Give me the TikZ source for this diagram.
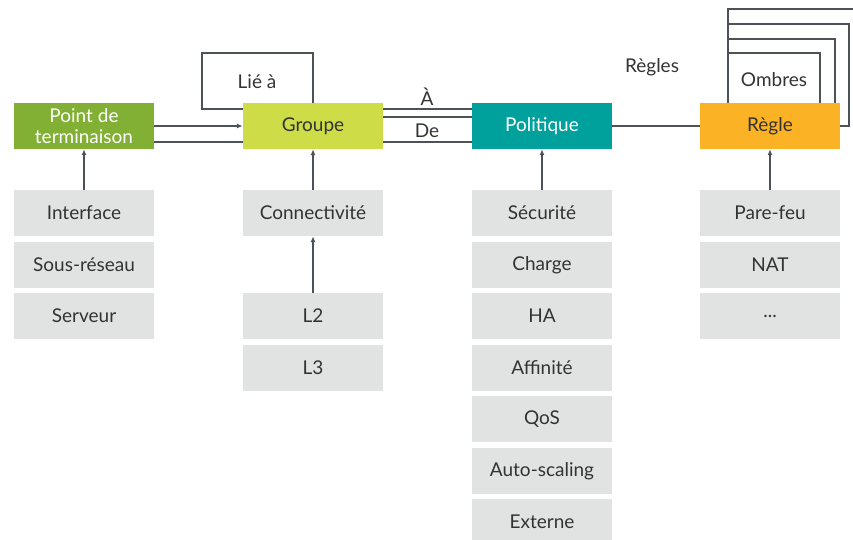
\documentclass[tikz,border=0pt]{standalone}
\usepackage{fontspec}
\setmainfont{Lato}
\usetikzlibrary{arrows.meta,backgrounds}

\definecolor{linegray}{HTML}{4D5258}
\definecolor{itemgray}{HTML}{E1E2E2}
\definecolor{epgreen}{HTML}{82B035}
\definecolor{grplime}{HTML}{CEDC47}
\definecolor{polteal}{HTML}{00A19D}
\definecolor{rulegold}{HTML}{FBB224}
\definecolor{textdark}{HTML}{333333}

\tikzset{
  box/.style={minimum width=140pt,minimum height=46pt,inner sep=0pt,align=center,
    font=\fontsize{19}{21}\selectfont,text=textdark},
  item/.style={box,fill=itemgray},
  link/.style={draw=linegray,line width=1.7pt},
  uparrow/.style={draw=linegray,line width=1.2pt,-{Latex[length=6pt,width=5pt]}},
  tag/.style={font=\fontsize{19}{21}\selectfont,text=textdark,inner sep=0pt}
}

\begin{document}
\begin{tikzpicture}[x=1pt,y=-1pt]

\useasboundingbox (0,0) rectangle (853,539);

% top row
\node [box,fill=epgreen,text=white] (pdt) at (84,126) {Point de\\terminaison};
\node [box,fill=grplime] (grp) at (313,126) {Groupe};
\node [box,fill=polteal,text=white] (pol) at (542,126) {Politique};
\node [box,fill=rulegold] (regle) at (770,126) {Règle};

% endpoint column
\node [item] (iface) at (84,213) {Interface};
\node [item] (subnet) at (84,265) {Sous-réseau};
\node [item] (srv) at (84,316) {Serveur};

% group column
\node [item] (conn) at (313,213) {Connectivité};
\node [item] (ltwo) at (313,316) {L2};
\node [item] (lthree) at (313,368) {L3};

% policy column
\node [item] (secu) at (542,213) {Sécurité};
\node [item] (charge) at (542,265) {Charge};
\node [item] (ha) at (542,316) {HA};
\node [item] (affin) at (542,368) {Affinité};
\node [item] (qos) at (542,419) {QoS};
\node [item] (autosc) at (542,471) {Auto-scaling};
\node [item] (ext) at (542,522) {Externe};

% rule column
\node [item] (fw) at (770,213) {Pare-feu};
\node [item] (nat) at (770,265) {NAT};
\node [item] (etc) at (770,316) {...};

% labels
\node [tag] (lie) at (257,82) {Lié à};
\node [tag] (to) at (427,97) {À};
\node [tag] (from) at (427,131) {De};
\node [tag] (regles) at (652,67) {Règles};
\node [tag] (ombres) at (774,80) {Ombres};

\coordinate (lieTL) at (202,53);

\begin{scope}[on background layer]
\draw [link] (grp.north) |- (lieTL) |- ([yshift=17pt]pol.west);
\draw [link] ([yshift=9pt]grp.east) -- ([yshift=9pt]pol.west);
\draw [link] ([yshift=-16pt]pdt.east) -- ([yshift=-16pt]pol.west);
\draw [link] (pol.east) -- (regle.west);

%shadow frames
\draw [link] ([xshift=-42pt]regle.north) -- ++(0,-50) -| ([xshift=50pt]regle.north);
\draw [link] ([xshift=-42pt]regle.north) -- ++(0,-64) -| ([xshift=65pt]regle.north);
\draw [link] ([xshift=-42pt]regle.north) -- ++(0,-79) -| ([xshift=9pt]regle.east) -- (regle.east);
\draw [link] ([xshift=-42pt]regle.north) -- ++(0,-94) -- ++(140,0);
\end{scope}

\draw [uparrow] (pdt.east) -- (grp.west);
\draw [uparrow] (iface.north) -- (pdt.south);
\draw [uparrow] (conn.north) -- (grp.south);
\draw [uparrow] (ltwo.north) -- (conn.south);
\draw [uparrow] (secu.north) -- (pol.south);
\draw [uparrow] (fw.north) -- (regle.south);

\end{tikzpicture}
\end{document}
